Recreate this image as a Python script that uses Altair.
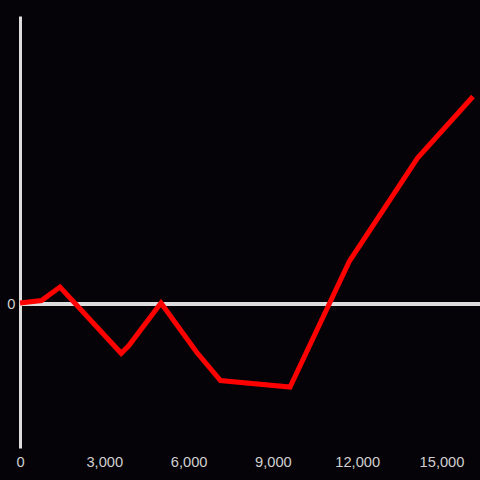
import altair as alt
import pandas as pd

x_vals = [0, 765, 1423, 3601, 3861, 5018, 6281, 7135, 9609, 11726, 14146, 16121]
y_vals = [10, 35, 170, -493, -420, 10, -480, -765, -830, 430, 1460, 2075]
x_ticks = [0, 3000, 6000, 9000, 12000, 15000]
y_ticks = [0]

df = pd.DataFrame({"x": x_vals, "y": y_vals, "order": list(range(len(x_vals)))})

xscale = alt.Scale(domain=[0, 16370], nice=False, zero=False)
yscale = alt.Scale(domain=[-1440, 2880], nice=False, zero=False)

rule = alt.Chart(df).mark_rule(color="#dddddd", strokeWidth=3).encode(
    y=alt.datum(0, scale=yscale),
)

line = alt.Chart(df).mark_line(color="#ff0000", strokeWidth=5).encode(
    x=alt.X("x:Q", scale=xscale, title=None,
            axis=alt.Axis(values=x_ticks, format=",.0f", grid=False, ticks=False,
                          domain=False, labelPadding=6, labelFontSize=14.67,
                          labelColor="#d0d0d0", labelFont="Liberation Sans",
                          labelFlush=False)),
    y=alt.Y("y:Q", scale=yscale, title=None,
            axis=alt.Axis(values=y_ticks, grid=False, ticks=False, domain=True,
                          domainColor="#dddddd", domainWidth=3, labelPadding=5,
                          labelFontSize=14.67, labelColor="#d0d0d0",
                          labelFont="Liberation Sans")),
    order="order:Q",
)

chart = alt.layer(rule, line).properties(
    width=460, height=432,
    background="#050307",
    padding={"left": 20, "top": 16, "right": 0, "bottom": 32},
    autosize=alt.AutoSizeParams(type="none"),
).configure_view(stroke=None)

chart.save("out.html", embed_options={"renderer": "svg", "actions": False,
                                      "defaultStyle": "body{margin:0;background:#050307;overflow:hidden}"})
